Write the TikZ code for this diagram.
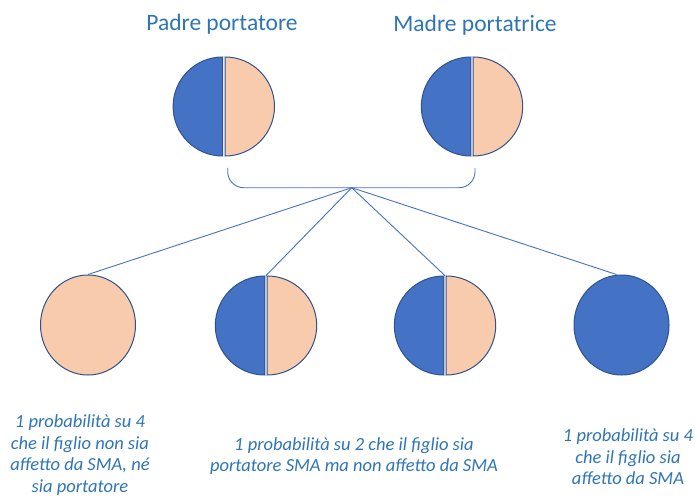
\documentclass[tikz,border=0pt]{standalone}
\usepackage{fontspec}
\setmainfont{Carlito}
\usetikzlibrary{positioning,shapes.geometric}

\definecolor{titleblue}{RGB}{46,117,182}
\definecolor{fillblue}{RGB}{68,114,196}
\definecolor{peach}{RGB}{248,203,173}
\definecolor{rim}{RGB}{47,82,143}

\tikzset{every picture/.style={line width=0.75pt}}
\tikzset{
  title/.style={text=titleblue, inner sep=0pt, anchor=base, font=\fontsize{23.5}{28}\selectfont},
  prob/.style={text=titleblue, inner sep=0pt, anchor=base, align=center, font=\fontsize{18.5}{21.5}\selectfont\itshape},
  disc/.style={ellipse, minimum width=95pt, minimum height=100pt, inner sep=0pt},
  link/.style={draw=fillblue, line width=0.9pt},
  halfblue/.style={fill=fillblue, draw=rim, line width=1pt},
  halfpeach/.style={fill=peach, draw=rim, line width=1pt},
}
% disc split in a blue and a peach half
\newcommand{\splitdisc}[1]{%
  \filldraw[halfblue, shift={(#1)}] (-1.2,49.5) arc (90:270:49.5) -- cycle;
  \filldraw[halfpeach, shift={(#1)}] (1.2,-49.5) arc (-90:90:49.5) -- cycle;}

\begin{document}
\begin{tikzpicture}[x=1pt,y=1pt,yscale=-1,xscale=1]
\useasboundingbox (0,0) rectangle (695,497);

%Parents
\node[circle, minimum size=99pt, inner sep=0pt] (pa) at (223.8,106.5) {};
\node[circle, minimum size=99pt, inner sep=0pt] (ma) at (472,106.5) {};
\splitdisc{pa}
\splitdisc{ma}

%Children
\node[disc, fill=peach, draw=rim, line width=1pt] (k1) at (88,325) {};
\node[circle, minimum size=99pt, inner sep=0pt] (k2) at (266,325.5) {};
\node[circle, minimum size=99pt, inner sep=0pt] (k3) at (445,325.5) {};
\node[disc, fill=fillblue, draw=rim, line width=1pt] (k4) at (621.5,325) {};
\splitdisc{k2}
\splitdisc{k3}

%Bracket joining the parents
\coordinate (hub) at (351.7,187.7);
\coordinate (bl) at (227.7,168);
\coordinate (br) at (475,168);
\draw[link, rounded corners=16] (bl) |- (hub) -| (br);

%Lines to the children
\draw[link] (hub) -- (k1.north);
\draw[link] (hub) -- (k2.north);
\draw[link] (hub) -- (k3.north);
\draw[link] (hub) -- ([xshift=-5pt]k4.north);

% Text Node (base = last line)
\node[title] (tpa) at (222,31) {Padre portatore};
\node[title] (tma) at (475,31.5) {Madre portatrice};
\node[prob] (p1) at (80,492) {1 probabilità su 4\\che il figlio non sia\\affetto da SMA, né\\sia portatore};
\node[prob] (p2) at (354,471.5) {1 probabilità su 2 che il figlio sia\\portatore SMA ma non affetto da SMA};
\node[prob] (p4) at (628,484.5) {1 probabilità su 4\\che il figlio sia\\affetto da SMA};

\end{tikzpicture}
\end{document}
